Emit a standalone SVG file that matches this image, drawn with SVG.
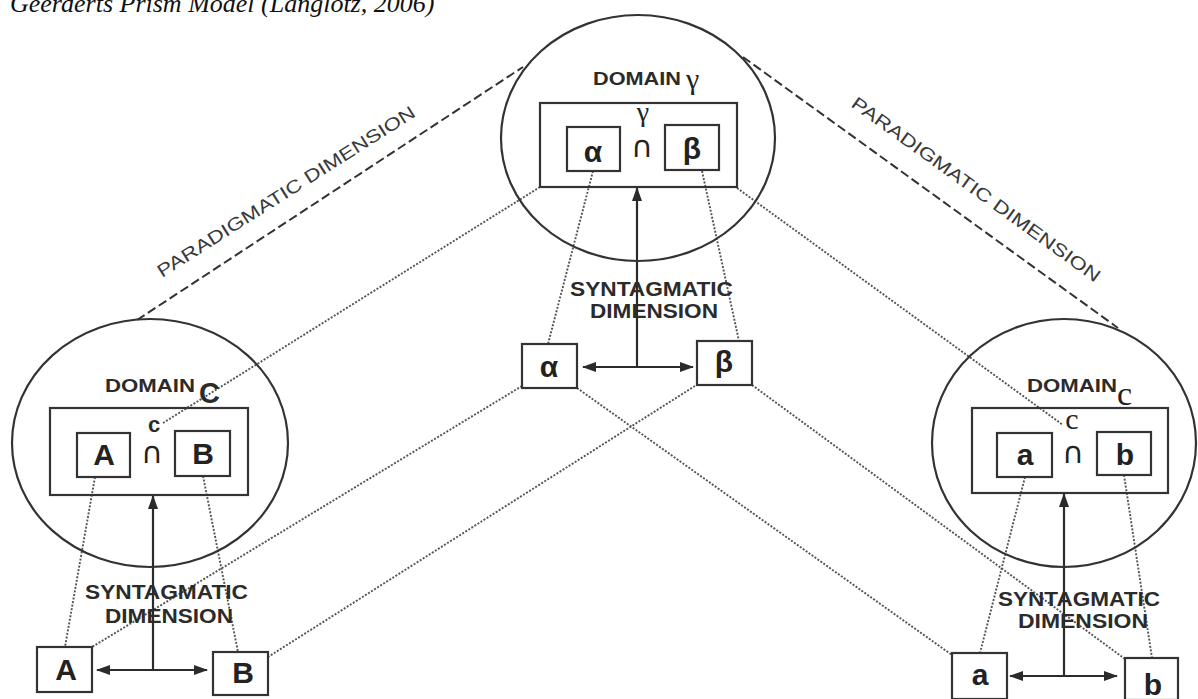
<svg xmlns="http://www.w3.org/2000/svg" width="1198" height="699" viewBox="0 0 1198 699">
<defs>
<marker id="ah" markerUnits="userSpaceOnUse" markerWidth="14" markerHeight="10" refX="13" refY="5" orient="auto-start-reverse">
<path d="M0,0 L14,5 L0,10 Z" fill="#2b2b2b"/>
</marker>
</defs>
<style>
.ell{fill:none;stroke:#333;stroke-width:2.2}
.box{fill:#fff;stroke:#333;stroke-width:2.2}
.rbox{fill:none;stroke:#333;stroke-width:2.2}
.dot{fill:none;stroke:#555;stroke-width:1.9;stroke-dasharray:2 1.6}
.dash{fill:none;stroke:#333;stroke-width:2;stroke-dasharray:9 4}
.arr{fill:none;stroke:#2b2b2b;stroke-width:2.2}
.lbl{font-family:"Liberation Sans",Arial,sans-serif;font-weight:bold;fill:#2b2b2b}
.sym{font-family:"Liberation Sans",Arial,sans-serif;font-weight:bold;font-size:30px;fill:#222;text-anchor:middle}
.cap{font-family:"DejaVu Sans",sans-serif;font-size:30px;fill:#222;text-anchor:middle}
.para{font-family:"Liberation Sans",Arial,sans-serif;font-size:18px;fill:#3a3a3a}
.ser{font-family:"Liberation Serif","Times New Roman",serif;fill:#222}
</style>
<rect width="1198" height="699" fill="#fff"/>
<text x="10" y="12" font-family="Liberation Serif, Times New Roman, serif" font-style="italic" font-size="26" fill="#111">Geerderts Prism Model (Langlotz, 2006)</text>

<g id="connectors">
<line class="dash" x1="137" y1="320" x2="523" y2="67"/>
<line class="dash" x1="743" y1="57" x2="1118" y2="328"/>
<line class="dot" x1="540" y1="187" x2="163" y2="423"/>
<line class="dot" x1="737" y1="188" x2="1063" y2="425"/>
<line class="dot" x1="593" y1="171" x2="548" y2="344"/>
<line class="dot" x1="702" y1="171" x2="739" y2="341"/>
<line class="dot" x1="522" y1="386" x2="92" y2="647"/>
<line class="dot" x1="698" y1="384" x2="268" y2="657"/>
<line class="dot" x1="577" y1="388" x2="952" y2="655"/>
<line class="dot" x1="752" y1="385" x2="1125" y2="659"/>
<line class="dot" x1="95" y1="477" x2="65" y2="647"/>
<line class="dot" x1="203" y1="476" x2="238" y2="652"/>
<line class="dot" x1="1025" y1="477" x2="980" y2="653"/>
<line class="dot" x1="1124" y1="475" x2="1152" y2="658"/>
<line class="arr" x1="637" y1="367" x2="637" y2="188" marker-end="url(#ah)"/>
<line class="arr" x1="583" y1="367" x2="693" y2="367" marker-start="url(#ah)" marker-end="url(#ah)"/>
<line class="arr" x1="153" y1="670" x2="153" y2="496" marker-end="url(#ah)"/>
<line class="arr" x1="97" y1="670" x2="207" y2="670" marker-start="url(#ah)" marker-end="url(#ah)"/>
<line class="arr" x1="1064" y1="676" x2="1064" y2="494" marker-end="url(#ah)"/>
<line class="arr" x1="1010" y1="676" x2="1117" y2="676" marker-start="url(#ah)" marker-end="url(#ah)"/>
<text class="para" x="0" y="0" transform="translate(162,278) rotate(-32.5)" textLength="302" lengthAdjust="spacingAndGlyphs">PARADIGMATIC DIMENSION</text>
<text class="para" x="0" y="0" transform="translate(850,106) rotate(35.8)" textLength="302" lengthAdjust="spacingAndGlyphs">PARADIGMATIC DIMENSION</text>
</g>

<g id="domain-gamma">
<ellipse class="ell" cx="638" cy="138" rx="137" ry="123"/>
<text class="lbl" x="593" y="85" font-size="19" textLength="88" lengthAdjust="spacingAndGlyphs">DOMAIN</text>
<text class="ser" x="686" y="89" font-size="30">γ</text>
<rect class="rbox" x="540" y="103" width="197" height="84"/>
<text class="ser" x="643" y="121" font-size="28" text-anchor="middle">γ</text>
<text class="cap" x="642" y="157">∩</text>
<rect class="rbox" x="567" y="127" width="53" height="44"/>
<text class="sym" x="593" y="162" font-size="32">α</text>
<rect class="rbox" x="665" y="125" width="54" height="45"/>
<text class="sym" x="692" y="159" font-size="32">β</text>
</g>

<g id="domain-C">
<ellipse class="ell" cx="150" cy="443" rx="138" ry="124"/>
<text class="lbl" x="105" y="392" font-size="19" textLength="90" lengthAdjust="spacingAndGlyphs">DOMAIN</text>
<text class="lbl" x="199" y="403" font-size="29">C</text>
<rect class="rbox" x="50" y="408" width="198" height="87"/>
<text class="lbl" x="154" y="432" font-size="22" text-anchor="middle">c</text>
<text class="cap" x="152" y="463">∩</text>
<rect class="rbox" x="77" y="433" width="53" height="44"/>
<text class="sym" x="104" y="465">A</text>
<rect class="rbox" x="175" y="431" width="55" height="45"/>
<text class="sym" x="203" y="464">B</text>
</g>

<g id="domain-c">
<ellipse class="ell" cx="1064" cy="443" rx="132" ry="124"/>
<text class="lbl" x="1027" y="392" font-size="19" textLength="90" lengthAdjust="spacingAndGlyphs">DOMAIN</text>
<text class="ser" x="1117" y="405" font-size="34">c</text>
<rect class="rbox" x="972" y="408" width="196" height="85"/>
<text class="ser" x="1072" y="429" font-size="30" text-anchor="middle">c</text>
<text class="cap" x="1073" y="463">∩</text>
<rect class="rbox" x="997" y="433" width="55" height="44"/>
<text class="sym" x="1025" y="465" font-size="32">a</text>
<rect class="rbox" x="1097" y="432" width="54" height="43"/>
<text class="sym" x="1125" y="465" font-size="32">b</text>
</g>

<g id="center-syntagmatic">
<rect class="box" x="522" y="344" width="55" height="44"/>
<text class="sym" x="549" y="377" font-size="32">α</text>
<rect class="box" x="697" y="341" width="55" height="44"/>
<text class="sym" x="724" y="372" font-size="32">β</text>
<text class="lbl" x="570" y="296" font-size="20" textLength="163" lengthAdjust="spacingAndGlyphs">SYNTAGMATIC</text>
<text class="lbl" x="590" y="318" font-size="20" textLength="128" lengthAdjust="spacingAndGlyphs">DIMENSION</text>
</g>

<g id="left-syntagmatic">
<rect class="box" x="37" y="647" width="55" height="45"/>
<text class="sym" x="66" y="680">A</text>
<rect class="box" x="213" y="652" width="55" height="43"/>
<text class="sym" x="243" y="683">B</text>
<text class="lbl" x="85" y="599" font-size="20" textLength="163" lengthAdjust="spacingAndGlyphs">SYNTAGMATIC</text>
<text class="lbl" x="105" y="623" font-size="20" textLength="128" lengthAdjust="spacingAndGlyphs">DIMENSION</text>
</g>

<g id="right-syntagmatic">
<rect class="box" x="952" y="653" width="55" height="46"/>
<text class="sym" x="980" y="685" font-size="32">a</text>
<rect class="box" x="1125" y="658" width="53" height="42"/>
<text class="sym" x="1153" y="695" font-size="32">b</text>
<text class="lbl" x="998" y="606" font-size="20" textLength="162" lengthAdjust="spacingAndGlyphs">SYNTAGMATIC</text>
<text class="lbl" x="1018" y="628" font-size="20" textLength="130" lengthAdjust="spacingAndGlyphs">DIMENSION</text>
</g>
</svg>
